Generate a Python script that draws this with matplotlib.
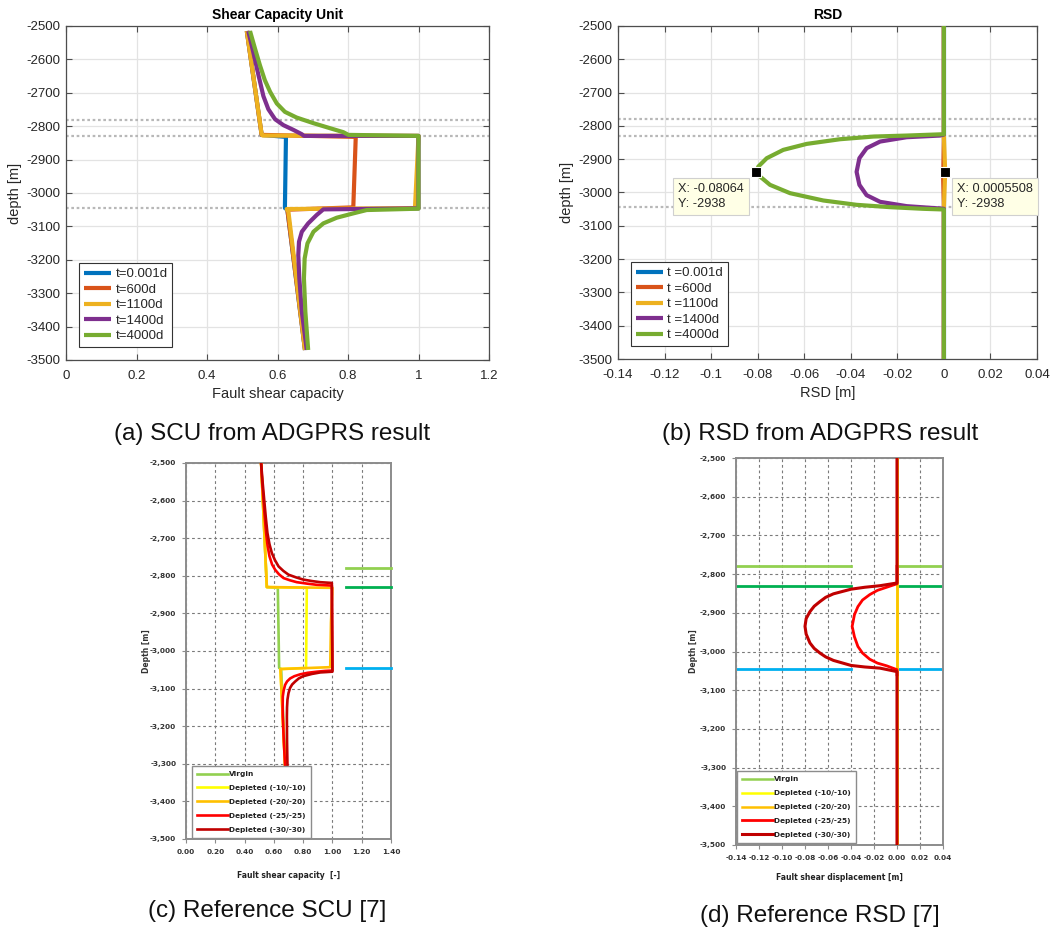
import matplotlib
matplotlib.use("Agg")
import matplotlib.pyplot as plt
from matplotlib.ticker import FuncFormatter

W, H, DPI = 1056, 936, 100

# ---------------- simulated results (ADGPRS) ----------------
sim_labels_scu = ["t=0.001d", "t=600d", "t=1100d", "t=1400d", "t=4000d"]
sim_labels_rsd = ["t =0.001d", "t =600d", "t =1100d", "t =1400d", "t =4000d"]
matlab_colors = ["#0072BD", "#D95319", "#EDB120", "#7E2F8E", "#77AC30"]

# shear capacity unit vs depth
scu_t0001_val = [0.513, 0.555, 0.624, 0.621, 0.628, 0.678]
scu_t0001_dep = [-2515, -2826, -2832, -3045, -3050, -3470]
scu_t600_val = [0.513, 0.555, 0.822, 0.815, 0.628, 0.678]
scu_t600_dep = [-2515, -2826, -2832, -3043, -3050, -3470]
scu_t1100_val = [0.513, 0.555, 0.558, 1.000, 0.990, 0.626, 0.631, 0.678]
scu_t1100_dep = [-2515, -2824, -2828, -2829, -3045, -3048, -3056, -3470]
scu_t1400_val = [0.517, 0.531, 0.546, 0.560, 0.574, 0.593, 0.617, 0.645, 0.669, 0.675,
                 1.000, 1.000, 0.730, 0.711, 0.687, 0.669, 0.661, 0.659, 0.662, 0.669, 0.683]
scu_t1400_dep = [-2515, -2577, -2647, -2710, -2749, -2779, -2797, -2811, -2824, -2829,
                 -2829, -3046, -3049, -3066, -3091, -3116, -3146, -3186, -3256, -3355, -3470]
scu_t4000_val = [0.522, 0.536, 0.550, 0.564, 0.579, 0.598, 0.621, 0.654, 0.702, 0.749,
                 0.787, 0.801, 1.000, 1.000, 0.853, 0.815, 0.768, 0.730, 0.702, 0.685,
                 0.677, 0.675, 0.679, 0.687]
scu_t4000_dep = [-2515, -2567, -2617, -2662, -2697, -2732, -2757, -2774, -2791, -2806,
                 -2818, -2826, -2829, -3047, -3051, -3061, -3074, -3091, -3116, -3151,
                 -3196, -3256, -3355, -3470]

# relative shear displacement vs depth
rsd_t0001_val = [0.0, 0.0]
rsd_t0001_dep = [-2500, -3500]
rsd_t600_val = [0.0, 0.0, -0.0003, 0.0, 0.0]
rsd_t600_dep = [-2500, -2830, -2960, -3045, -3500]
rsd_t1100_val = [0.0, 0.0, 0.00055, 0.0, 0.0]
rsd_t1100_dep = [-2500, -2830, -2938, -3045, -3500]
rsd_t1400_val = [0.0, 0.0, -0.0017, -0.0160, -0.0274, -0.0332, -0.0363, -0.0375,
                 -0.0363, -0.0332, -0.0274, -0.0160, -0.0017, 0.0, 0.0]
rsd_t1400_dep = [-2500, -2826, -2829, -2834, -2847, -2867, -2897, -2938,
                 -2977, -3008, -3028, -3041, -3048, -3049, -3500]
rsd_t4000_val = [0.0, 0.0, -0.0160, -0.0303, -0.0446, -0.0589, -0.0690, -0.0761, -0.0797,
                 -0.08064, -0.0790, -0.0747, -0.0661, -0.0518, -0.0375, -0.0232, -0.0088,
                 0.0, 0.0]
rsd_t4000_dep = [-2500, -2825, -2829, -2832, -2840, -2854, -2872, -2897, -2922,
                 -2938, -2952, -2977, -3002, -3024, -3037, -3044, -3049,
                 -3051, -3500]

layer_depths = [-2780, -2830, -3045]
tip_points = [(-0.08064, -2938), (0.0005508, -2938)]

# ---------------- published reference results ----------------
ref_labels = ["Virgin", "Depleted (-10/-10)", "Depleted (-20/-20)",
              "Depleted (-25/-25)", "Depleted (-30/-30)"]
excel_colors = ["#92D050", "#FFFF00", "#FFC000", "#FF0000", "#C00000"]
layer_colors = ["#92D050", "#00B050", "#00B0F0"]

ref_scu_virgin_val = [0.513, 0.552, 0.627, 0.636, 0.650, 0.700]
ref_scu_virgin_dep = [-2500, -2830, -2832, -3045, -3048, -3500]
ref_scu_d10_val = [0.513, 0.552, 0.825, 0.820, 0.645, 0.700]
ref_scu_d10_dep = [-2500, -2830, -2832, -3045, -3048, -3500]
ref_scu_d20_val = [0.513, 0.552, 1.000, 0.990, 0.985, 0.645, 0.700]
ref_scu_d20_dep = [-2500, -2830, -2832, -2925, -3043, -3048, -3500]
ref_scu_d25_val = [0.513, 0.520, 0.529, 0.537, 0.547, 0.557, 0.570, 0.588, 0.609, 0.635,
                   0.666, 0.710, 0.757, 0.830, 0.894, 0.996, 1.000, 0.950, 0.894, 0.830,
                   0.780, 0.740, 0.711, 0.690, 0.677, 0.667, 0.661, 0.660, 0.661, 0.668,
                   0.677, 0.690, 0.700]
ref_scu_d25_dep = [-2500, -2550, -2598, -2640, -2686, -2720, -2748, -2770, -2784, -2796,
                   -2806, -2812, -2817, -2821, -2824, -2826, -3052, -3053, -3055, -3058,
                   -3062, -3067, -3073, -3081, -3090, -3105, -3121, -3150, -3174, -3240,
                   -3307, -3400, -3500]
ref_scu_d30_val = [0.513, 0.523, 0.534, 0.545, 0.556, 0.570, 0.586, 0.607, 0.632, 0.665,
                   0.700, 0.750, 0.800, 0.860, 0.917, 0.996, 1.000, 0.960, 0.917, 0.860,
                   0.800, 0.770, 0.746, 0.725, 0.711, 0.700, 0.693, 0.690, 0.689, 0.690,
                   0.693, 0.700, 0.705]
ref_scu_d30_dep = [-2500, -2550, -2598, -2645, -2686, -2716, -2739, -2758, -2775, -2787,
                   -2797, -2804, -2810, -2814, -2817, -2819, -3055, -3056, -3057, -3061,
                   -3067, -3073, -3081, -3089, -3098, -3112, -3129, -3150, -3174, -3240,
                   -3307, -3400, -3500]
ref_layer_scu_x = [1.09, 1.40]

ref_rsd_virgin_val = [0.0, 0.0]
ref_rsd_virgin_dep = [-2500, -3500]
ref_rsd_d10_val = [0.0, 0.0]
ref_rsd_d10_dep = [-2500, -3500]
ref_rsd_d20_val = [0.0, 0.0]
ref_rsd_d20_dep = [-2500, -3500]
ref_rsd_d25_val = [0.0, 0.0, -0.0090, -0.0170, -0.0237, -0.0300, -0.0340, -0.0370, -0.0390,
                   -0.0370, -0.0340, -0.0300, -0.0237, -0.0170, -0.0090, 0.0, 0.0]
ref_rsd_d25_dep = [-2780, -2825, -2834, -2842, -2853, -2867, -2884, -2905, -2935,
                   -2962, -2987, -3004, -3020, -3030, -3037, -3047, -3060]
ref_rsd_d30_val = [0.0, 0.0, -0.0148, -0.0280, -0.0400, -0.0553, -0.0620, -0.0670, -0.0720,
                   -0.0757, -0.0790, -0.0800, -0.0790, -0.0757, -0.0720, -0.0670, -0.0620,
                   -0.0553, -0.0400, -0.0280, -0.0148, 0.0, 0.0]
ref_rsd_d30_dep = [-2500, -2823, -2830, -2834, -2839, -2851, -2860, -2871, -2883,
                   -2897, -2915, -2935, -2955, -2978, -2992, -3004, -3014,
                   -3023, -3036, -3040, -3043, -3052, -3500]
ref_layer_rsd_left = [-0.14, -0.04]
ref_layer_rsd_right = [0.0, 0.04]

captions = ["(a) SCU from ADGPRS result", "(b) RSD from ADGPRS result",
            "(c) Reference SCU [7]", "(d) Reference RSD [7]"]


def frac(left, top, right, bottom):
    return [left / W, 1 - bottom / H, (right - left) / W, (bottom - top) / H]


fig = plt.figure(figsize=(W / DPI, H / DPI), dpi=DPI)
fig.patch.set_facecolor("white")

SANS = ["Liberation Sans", "DejaVu Sans"]
AX_COL = "#4d4d4d"
TXT_COL = "#262626"


def style_matlab(ax, xlim, xticks, xfmt):
    ax.set_xlim(*xlim)
    ax.set_ylim(-3500, -2500)
    ax.set_xticks(xticks)
    ax.set_yticks(range(-3500, -2499, 100))
    ax.xaxis.set_major_formatter(FuncFormatter(xfmt))
    ax.yaxis.set_major_formatter(FuncFormatter(lambda v, p: f"{v:g}"))
    ax.grid(True, color="#e3e3e3", lw=0.9)
    ax.set_axisbelow(True)
    ax.tick_params(direction="in", length=4, width=0.8, top=True, right=True,
                   labelsize=9.5, colors=AX_COL, labelcolor=TXT_COL)
    ax.tick_params(axis="x", pad=7)
    ax.tick_params(axis="y", pad=4)
    for lab in ax.get_xticklabels() + ax.get_yticklabels():
        lab.set_family(SANS)
    for s in ax.spines.values():
        s.set_color(AX_COL)
        s.set_linewidth(0.9)


def matlab_legend(ax):
    lg = ax.legend(loc="lower left", bbox_to_anchor=(0.031, 0.039), borderaxespad=0,
                   prop={"family": SANS, "size": 9.5}, frameon=True, fancybox=False,
                   handlelength=2.1, handletextpad=0.3, labelspacing=0.25,
                   borderpad=0.35, framealpha=1)
    lg.get_frame().set_edgecolor("#333333")
    lg.get_frame().set_linewidth(0.8)
    for t in lg.get_texts():
        t.set_color(TXT_COL)


# ---------------- (a) ----------------
ax_a = fig.add_axes(frac(66, 26, 489, 360))
style_matlab(ax_a, (0, 1.2), [0, 0.2, 0.4, 0.6, 0.8, 1.0, 1.2], lambda v, p: f"{v:g}")
for d in layer_depths:
    ax_a.axhline(d, color="#b8b8b8", lw=1.6, ls=(0, (1.2, 1.2)), zorder=1)
scu_sets = [(scu_t0001_val, scu_t0001_dep), (scu_t600_val, scu_t600_dep),
            (scu_t1100_val, scu_t1100_dep), (scu_t1400_val, scu_t1400_dep),
            (scu_t4000_val, scu_t4000_dep)]
for (v, d), c, lab in zip(scu_sets, matlab_colors, sim_labels_scu):
    ax_a.plot(v, d, color=c, lw=3, label=lab, solid_joinstyle="round",
              solid_capstyle="butt", zorder=3)
ax_a.set_title("Shear Capacity Unit", fontsize=10, fontweight="bold", family=SANS,
               color="black", pad=5)
ax_a.set_xlabel("Fault shear capacity", fontsize=10.5, family=SANS, color=TXT_COL, labelpad=4)
ax_a.set_ylabel("depth [m]", fontsize=10.5, family=SANS, color=TXT_COL, labelpad=3)
matlab_legend(ax_a)

# ---------------- (b) ----------------
ax_b = fig.add_axes(frac(618, 26, 1037, 359))
style_matlab(ax_b, (-0.14, 0.04),
             [-0.14, -0.12, -0.10, -0.08, -0.06, -0.04, -0.02, 0.0, 0.02, 0.04],
             lambda v, p: f"{round(v, 2):g}")
for d in layer_depths:
    ax_b.axhline(d, color="#b8b8b8", lw=1.6, ls=(0, (1.2, 1.2)), zorder=1)
rsd_sets = [(rsd_t0001_val, rsd_t0001_dep), (rsd_t600_val, rsd_t600_dep),
            (rsd_t1100_val, rsd_t1100_dep), (rsd_t1400_val, rsd_t1400_dep),
            (rsd_t4000_val, rsd_t4000_dep)]
for (v, d), c, lab in zip(rsd_sets, matlab_colors, sim_labels_rsd):
    ax_b.plot(v, d, color=c, lw=3, label=lab, solid_joinstyle="round",
              solid_capstyle="butt", zorder=3)
ax_b.set_title("RSD", fontsize=10, fontweight="bold", family=SANS, color="black", pad=5)
ax_b.set_xlabel("RSD [m]", fontsize=10.5, family=SANS, color=TXT_COL, labelpad=4)
ax_b.set_ylabel("depth [m]", fontsize=10.5, family=SANS, color=TXT_COL, labelpad=3)
matlab_legend(ax_b)

for (tx, ty), off, ha in zip(tip_points, [(-12, -11), (12, -11)], ["right", "left"]):
    ax_b.plot([tx], [ty], marker="s", ms=7.5, color="black", mec="white", mew=0.8,
              zorder=6, ls="none")
    ax_b.annotate(f"X: {tx:g}\nY: {ty:g}", xy=(tx, ty), xytext=off,
                  textcoords="offset pixels", ha=ha, va="top", multialignment="left",
                  fontsize=9.2, family=SANS, color=TXT_COL, linespacing=1.3, zorder=7,
                  bbox=dict(boxstyle="square,pad=0.4", fc="#FFFFE6", ec="#d0d0d0", lw=0.8))


# ---------------- reference panels ----------------
REF_FONT = "DejaVu Sans"


def style_excel(ax, xlim, xticks):
    ax.set_xlim(*xlim)
    ax.set_ylim(-3500, -2500)
    ax.set_xticks(xticks)
    ax.set_yticks(range(-3500, -2499, 100))
    ax.xaxis.set_major_formatter(FuncFormatter(lambda v, p: f"{v:.2f}"))
    ax.yaxis.set_major_formatter(FuncFormatter(lambda v, p: f"{v:,.0f}"))
    ax.grid(True, color="#7a7a7a", lw=0.8, ls=(0, (2.5, 2.5)))
    ax.set_axisbelow(True)
    ax.tick_params(direction="out", length=3, width=0.8, colors="#8c8c8c",
                   labelsize=5.3, labelcolor="#333333", pad=4)
    for lab in ax.get_xticklabels() + ax.get_yticklabels():
        lab.set_family(REF_FONT)
        lab.set_fontweight("bold")
    for s in ax.spines.values():
        s.set_color("#8c8c8c")
        s.set_linewidth(1.4)


def ref_legend(ax, anchor):
    lg = ax.legend(loc="lower left", bbox_to_anchor=anchor, borderaxespad=0,
                   prop={"family": REF_FONT, "size": 5.3, "weight": "bold"},
                   frameon=True, fancybox=False, handlelength=4.2,
                   handletextpad=0.2, labelspacing=1.05, borderpad=0.7,
                   framealpha=1)
    lg.get_frame().set_edgecolor("#8c8c8c")
    lg.get_frame().set_linewidth(1.0)
    lg.set_zorder(10)
    for t in lg.get_texts():
        t.set_color("#222222")


# (c)
ax_c = fig.add_axes(frac(186, 463, 391, 839))
style_excel(ax_c, (0, 1.4), [0, 0.2, 0.4, 0.6, 0.8, 1.0, 1.2, 1.4])
ref_scu_sets = [(ref_scu_virgin_val, ref_scu_virgin_dep), (ref_scu_d10_val, ref_scu_d10_dep),
                (ref_scu_d20_val, ref_scu_d20_dep), (ref_scu_d25_val, ref_scu_d25_dep),
                (ref_scu_d30_val, ref_scu_d30_dep)]
for (v, d), c, lab in zip(ref_scu_sets, excel_colors, ref_labels):
    ax_c.plot(v, d, color=c, lw=1.9, label=lab, solid_joinstyle="round", zorder=3)
for d, c in zip(layer_depths, layer_colors):
    ax_c.plot(ref_layer_scu_x, [d, d], color=c, lw=2, zorder=3, clip_on=False)
ax_c.set_ylabel("Depth [m]", fontsize=5.5, fontweight="bold", family=REF_FONT,
                color="#333333", labelpad=-1)
ax_c.set_xlabel("Fault shear capacity  [-]", fontsize=5.5, fontweight="bold",
                family=REF_FONT, color="#222222", labelpad=12)
ref_legend(ax_c, (0.028, 0.003))

# (d)
ax_d = fig.add_axes(frac(736, 458, 943, 845))
style_excel(ax_d, (-0.14, 0.04),
            [-0.14, -0.12, -0.10, -0.08, -0.06, -0.04, -0.02, 0.0, 0.02, 0.04])
ref_rsd_sets = [(ref_rsd_virgin_val, ref_rsd_virgin_dep), (ref_rsd_d10_val, ref_rsd_d10_dep),
                (ref_rsd_d20_val, ref_rsd_d20_dep), (ref_rsd_d25_val, ref_rsd_d25_dep),
                (ref_rsd_d30_val, ref_rsd_d30_dep)]
for (v, d), c, lab, lw in zip(ref_rsd_sets, excel_colors, ref_labels,
                              [1.8, 1.8, 1.8, 2.0, 2.2]):
    ax_d.plot(v, d, color=c, lw=lw, label=lab, solid_joinstyle="round", zorder=3)
for d, c in zip(layer_depths, layer_colors):
    ax_d.plot(ref_layer_rsd_left, [d, d], color=c, lw=2, zorder=2)
    ax_d.plot(ref_layer_rsd_right, [d, d], color=c, lw=2, zorder=2)
ax_d.set_ylabel("Depth [m]", fontsize=5.5, fontweight="bold", family=REF_FONT,
                color="#333333", labelpad=1)
ax_d.set_xlabel("Fault shear displacement [m]", fontsize=5.5, fontweight="bold",
                family=REF_FONT, color="#222222", labelpad=9)
ref_legend(ax_d, (0.004, 0.005))

# ---------------- captions ----------------
for txt, (cx, cy) in zip(captions, [(272, 434), (820, 434), (267, 911), (820, 916)]):
    fig.text(cx / W, 1 - cy / H, txt, ha="center", va="center", fontsize=17.5,
             family=SANS, color="#111111")

fig.savefig("out.png", dpi=DPI, facecolor="white")
